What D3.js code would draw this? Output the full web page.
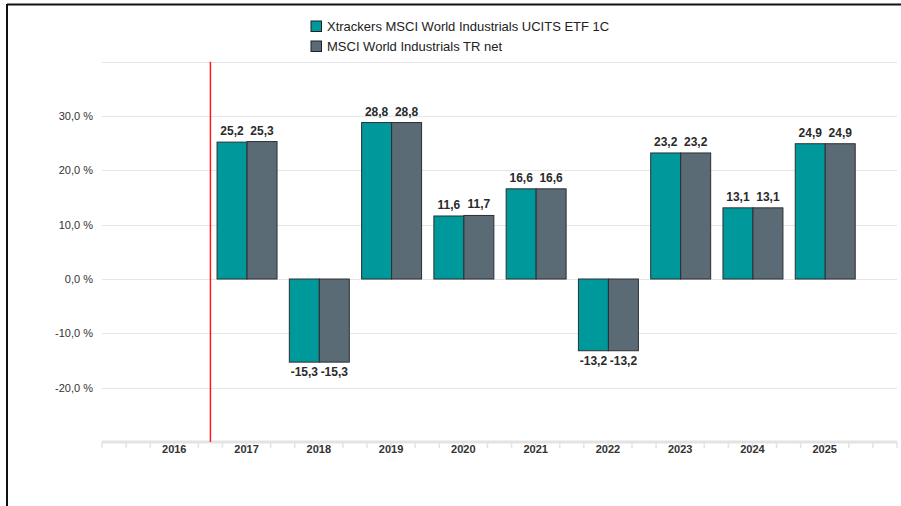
<!DOCTYPE html>
<html><head><meta charset="utf-8">
<script src="https://cdn.jsdelivr.net/npm/d3@7"></script>
<style>body{margin:0;background:#fff}svg{display:block;font-family:"Liberation Sans",Arial,sans-serif}</style>
</head><body><svg id="c" width="901" height="506"></svg>
<script>
const years = ["2016","2017","2018","2019","2020","2021","2022","2023","2024","2025"];
const seriesNames = ["Xtrackers MSCI World Industrials UCITS ETF 1C","MSCI World Industrials TR net"];
const fundValues = [null,25.2,-15.3,28.8,11.6,16.6,-13.2,23.2,13.1,24.9];
const indexValues = [null,25.3,-15.3,28.8,11.7,16.6,-13.2,23.2,13.1,24.9];
const yTicks = [-30,-20,-10,0,10,20,30,40];
const yLabelTicks = [-20,-10,0,10,20,30];
const colors = ["#00999b","#5b6b76"];
const markerYear = "2016";

const svg = d3.select("#c");
const fmt = v => v.toFixed(1).replace(".", ",");

// frame
svg.append("line").attr("x1",7).attr("x2",901).attr("y1",4.5).attr("y2",4.5).attr("stroke","#111").attr("stroke-width",2);
svg.append("line").attr("x1",7).attr("x2",7).attr("y1",4).attr("y2",506).attr("stroke","#111").attr("stroke-width",2);

const x = d3.scaleBand().domain(years).range([102,897]).paddingInner(0).paddingOuter(0.5);
const y = d3.scaleLinear().domain([-30,40]).range([442,61.7]);
const inner = d3.scaleBand().domain([0,1]).range([0,x.bandwidth()]).paddingInner(0).paddingOuter(0.205);

// grid
svg.append("g").selectAll("line").data(yTicks.filter(t=>t>-30)).join("line")
  .attr("x1",102).attr("x2",897).attr("y1",d=>Math.round(y(d))+0.5).attr("y2",d=>Math.round(y(d))+0.5)
  .attr("stroke","#e6e6e6").attr("stroke-width",1);

// y labels
svg.append("g").selectAll("text").data(yLabelTicks).join("text")
  .attr("x",93).attr("y",d=>y(d)+4).attr("text-anchor","end")
  .attr("font-size",11).attr("fill","#333").text(d=>fmt(d)+" %");

// x axis
const axisY = y(-30);
svg.append("line").attr("x1",102).attr("x2",897).attr("y1",axisY).attr("y2",axisY).attr("stroke","#e3e3e3").attr("stroke-width",3);
const step = x.step()/3;
const minor = d3.range(0,34).map(i=>102+i*step).filter(v=>v<=898);
svg.append("g").selectAll("line").data(minor).join("line")
  .attr("x1",d=>d).attr("x2",d=>d).attr("y1",axisY).attr("y2",axisY+6)
  .attr("stroke","#e3e3e3").attr("stroke-width",1.5);
svg.append("g").selectAll("text").data(years).join("text")
  .attr("x",d=>x(d)+x.bandwidth()/2).attr("y",axisY+11).attr("text-anchor","middle")
  .attr("font-size",11).attr("font-weight","bold").attr("fill","#333").text(d=>d);

// bars
const data = [];
years.forEach((yr,i)=>{[fundValues[i],indexValues[i]].forEach((v,s)=>{ if(v!==null) data.push({yr,s,v}); });});
const bars = svg.append("g");
bars.selectAll("rect").data(data).join("rect")
  .attr("x",d=>x(d.yr)+inner(d.s)+0.5)
  .attr("width",inner.bandwidth())
  .attr("y",d=>Math.min(y(d.v),y(0)))
  .attr("height",d=>Math.abs(y(d.v)-y(0)))
  .attr("fill",d=>colors[d.s]).attr("stroke","#2a2f33").attr("stroke-width",1);
bars.selectAll("text").data(data).join("text")
  .attr("x",d=>x(d.yr)+inner(d.s)+inner.bandwidth()/2+0.5)
  .attr("y",d=>d.v>=0? y(d.v)-7 : y(d.v)+14)
  .attr("text-anchor","middle").attr("font-size",12).attr("font-weight","bold").attr("fill","#2a2a2a")
  .text(d=>fmt(d.v));

// red marker line
const mx = x(markerYear)+x.bandwidth();
svg.append("line").attr("x1",mx).attr("x2",mx).attr("y1",y(40)).attr("y2",axisY).attr("stroke","#ff1a1a").attr("stroke-width",1.5);

// legend
const lg = svg.append("g");
seriesNames.forEach((n,i)=>{
  lg.append("rect").attr("x",311).attr("y",21+i*20).attr("width",10.5).attr("height",10.5)
    .attr("fill",colors[i]).attr("stroke","#222").attr("stroke-width",1);
  lg.append("text").attr("x",327).attr("y",30.5+i*20).attr("font-size",13).attr("fill","#222").text(n);
});
</script></body></html>
